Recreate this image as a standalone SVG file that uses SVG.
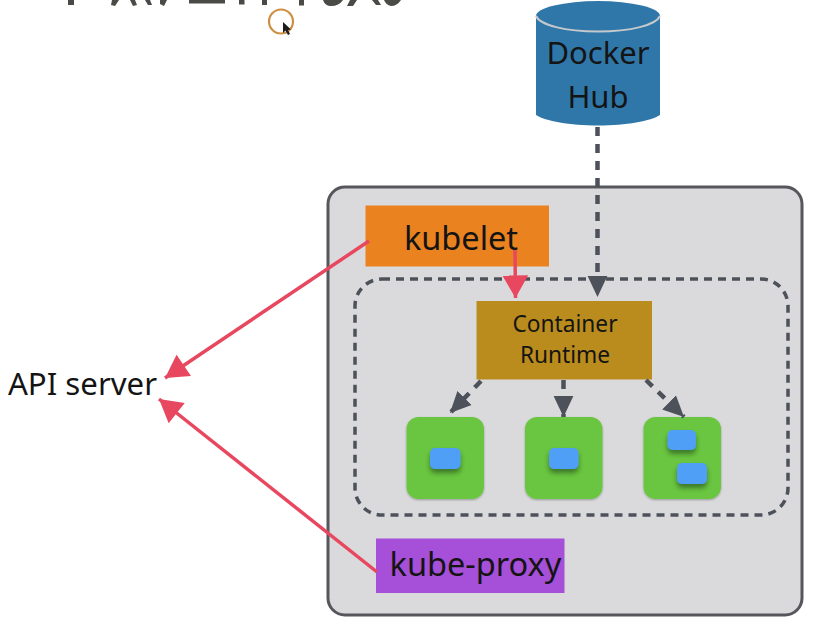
<svg xmlns="http://www.w3.org/2000/svg" width="818" height="635" viewBox="0 0 818 635">
  <style>
    text { font-family: "Noto Sans", "Open Sans", "DejaVu Sans", sans-serif; fill: #141414; text-anchor: middle; }
    .big { font-size: 31px; }
    .label { font-size: 32.500px; }
    .mid { font-size: 22.700px; }
    .dash { fill: none; stroke: #4d5159; stroke-width: 4.500; stroke-dasharray: 9 8; }
    .red { fill: none; stroke: #e8485f; stroke-width: 3.500; }
    .green { fill: #6bc63f; filter: url(#s); }
    .blue { fill: #4f9ff7; filter: url(#s2); }
    .frag { fill: #4a4a46; }
  </style>
  <defs>
    <filter id="s" x="-10%" y="-10%" width="120%" height="120%"><feDropShadow dx="0" dy="1" stdDeviation="1" flood-color="#000" flood-opacity="0.3"/></filter>
    <filter id="s2" x="-30%" y="-30%" width="160%" height="200%"><feDropShadow dx="0" dy="4" stdDeviation="2.500" flood-color="#24501a" flood-opacity="0.65"/></filter>
    <marker id="ah-red" markerUnits="userSpaceOnUse" markerWidth="26" markerHeight="28" viewBox="0 0 22 26" refX="21" refY="13" orient="auto">
      <path d="M0 1 L21 13 L0 25 Z" fill="#e8485f"/>
    </marker>
    <marker id="ah-dark" markerUnits="userSpaceOnUse" markerWidth="22" markerHeight="22" viewBox="0 0 20 20" refX="19" refY="10" orient="auto">
      <path d="M0 1 L19 10 L0 19 Z" fill="#4d5159"/>
    </marker>
  </defs>
  <rect width="818" height="635" fill="#ffffff"/>

  <g id="clipped-heading">
    <rect class="frag" x="68" y="0" width="6" height="5"/>
    <path class="frag" d="M112 0 L119 0 L115 6 L111 5 Z M130 0 L135 0 L137 5 L133 6 Z M145 0 L150 0 L152 5 L148 5 Z M160 0 L167 0 L164 6 L160 4 Z"/>
    <rect class="frag" x="189" y="0" width="36" height="3.500"/>
    <rect class="frag" x="239" y="0" width="5.500" height="4.500"/>
    <rect class="frag" x="262" y="0" width="5" height="5"/>
    <rect class="frag" x="299" y="0" width="5" height="5.500"/>
    <path class="frag" d="M323 0 L343 0 Q339 6 331 6 Q325 6 323 0 Z M350 0 L357 0 L353 6 L347 6 Z M372 0 L378 0 L381 5 L376 5 Z M384 0 L401 0 Q397 6 391 6 Q386 5 384 0 Z"/>
  </g>

  <g id="pointer">
    <circle cx="281" cy="21.500" r="12" fill="none" stroke="#cf8f42" stroke-width="2.200"/>
    <path d="M283 22 L283 33 L285.500 30.500 L288 35 L290 34 L288 30 L291 29.500 Z" fill="#1c1c1c"/>
  </g>

  <g id="docker-hub">
    <path d="M536 16 L536 115 C545 121 570 125.500 598 125.500 C626 125.500 651 121 660 115 L660 16 Z" fill="#2f77a9"/>
    <ellipse cx="598" cy="16" rx="62" ry="15" fill="#2f77a9"/>
    <path d="M536 16 C540 25 565 31.500 598 31.500 C631 31.500 656 25 660 16" fill="none" stroke="#c5c9cc" stroke-width="2"/>
    <text class="big" x="598" y="64">Docker</text>
    <text class="big" x="598" y="108">Hub</text>
  </g>

  <g id="node-frame">
    <rect x="328" y="187" width="474" height="428" rx="17" fill="#dadadd" stroke="#56575c" stroke-width="3"/>
  </g>
  <g id="runtime-boundary">
    <rect x="355" y="279" width="433" height="236" rx="27" fill="none" stroke="#4d5159" stroke-width="3.500" stroke-dasharray="8 6"/>
  </g>

  <g id="kubelet">
    <rect x="365.500" y="205.500" width="183.500" height="61" fill="#ea821f"/>
    <text class="label" x="461" y="250">kubelet</text>
  </g>
  <g id="container-runtime">
    <rect x="476.500" y="301" width="175.500" height="78.500" fill="#b98c1d"/>
    <text class="mid" x="565" y="332">Container</text>
    <text class="mid" x="565" y="363">Runtime</text>
  </g>
  <g id="kube-proxy">
    <rect x="376" y="538.500" width="188.500" height="54.500" fill="#a64fd8"/>
    <text class="label" x="475.500" y="576">kube-proxy</text>
  </g>

  <g id="pod-1">
    <rect class="green" x="406.500" y="417" width="77.500" height="82" rx="12"/>
    <rect class="blue" x="430" y="448" width="30.500" height="21" rx="5"/>
  </g>
  <g id="pod-2">
    <rect class="green" x="525" y="417" width="77.500" height="82" rx="12"/>
    <rect class="blue" x="549" y="448" width="29.500" height="21" rx="5"/>
  </g>
  <g id="pod-3">
    <rect class="green" x="643.500" y="417" width="77.500" height="82" rx="12"/>
    <rect class="blue" x="667.500" y="430" width="28.500" height="20" rx="5"/>
    <rect class="blue" x="677" y="463" width="30" height="21" rx="5"/>
  </g>

  <g id="api-server">
    <text x="82.500" y="395" font-size="31.200px">API server</text>
  </g>

  <g id="connectors">
    <path class="dash" d="M597.500 127 L597.500 297" marker-end="url(#ah-dark)"/>
    <path class="dash" d="M481 381 L450 413" marker-end="url(#ah-dark)"/>
    <path class="dash" d="M563.500 380 L563.500 417" marker-end="url(#ah-dark)"/>
    <path class="dash" d="M646 380 L684 417" marker-end="url(#ah-dark)"/>
    <path class="red" d="M515 250 L515.500 298" marker-end="url(#ah-red)"/>
    <path class="red" d="M369 241 L165 378" marker-end="url(#ah-red)"/>
    <path class="red" d="M377 572 L159 399" marker-end="url(#ah-red)"/>
  </g>
</svg>
